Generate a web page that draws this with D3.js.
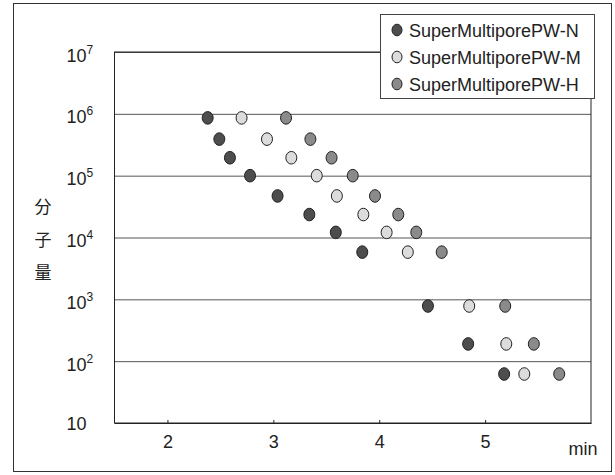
<!DOCTYPE html>
<html>
<head>
<meta charset="utf-8">
<script src="https://cdn.jsdelivr.net/npm/d3@7"></script>
<style>
  html, body { margin: 0; padding: 0; background: #fff; }
  svg { display: block; }
  text { font-family: "Liberation Sans", Arial, Helvetica, sans-serif; fill: #222; }
</style>
</head>
<body>
<svg id="chart" width="615" height="475"></svg>
<script>
// Calibration curves: log molecular weight vs. elution time (min)
const seriesNames = ["SuperMultiporePW-N", "SuperMultiporePW-M", "SuperMultiporePW-H"];
const seriesFills = ["#4d4d4d", "#dcdcdc", "#8a8a8a"];

// Molecular weight of each standard (shared by all three columns)
const molWeights = [860000, 390000, 195000, 100000, 47000, 23500, 12100, 5800, 780, 190, 62];

// Elution times (min) for each column
const timesN = [2.38, 2.49, 2.59, 2.78, 3.04, 3.34, 3.59, 3.84, 4.46, 4.84, 5.18];
const timesM = [2.70, 2.94, 3.17, 3.41, 3.60, 3.85, 4.07, 4.27, 4.85, 5.20, 5.37];
const timesH = [3.12, 3.35, 3.55, 3.75, 3.96, 4.18, 4.35, 4.59, 5.19, 5.46, 5.70];

const xTicks = [2, 3, 4, 5];
const yTicks = [10, 1e2, 1e3, 1e4, 1e5, 1e6, 1e7];
const yExponents = [null, 2, 3, 4, 5, 6, 7];
const xUnit = "min";
const yTitle = ["分", "子", "量"];

const svg = d3.select("#chart");

// outer frame
svg.append("rect")
  .attr("x", 13.5).attr("y", 3.5)
  .attr("width", 598).attr("height", 468)
  .attr("fill", "none").attr("stroke", "#333").attr("stroke-width", 1);

const margin = { left: 114.5, top: 52, right: 591, bottom: 423 };
const W = margin.right - margin.left;
const H = margin.bottom - margin.top;

const x = d3.scaleLinear().domain([1.5, 6.0]).range([0, W]);
const y = d3.scaleLog().domain([10, 1e7]).range([H, 0]);

const g = svg.append("g").attr("transform", `translate(${margin.left},${margin.top})`);

// horizontal grid at each decade
const yAxis = d3.axisLeft(y)
  .tickValues(yTicks)
  .tickSize(-W)
  .tickSizeOuter(0)
  .tickFormat(() => "10");
const yg = g.append("g").call(yAxis);
yg.select(".domain").remove();
yg.selectAll(".tick line").attr("stroke", "#555").attr("stroke-width", 1);
yg.selectAll(".tick text")
  .attr("x", -48)
  .attr("text-anchor", "start")
  .attr("dy", null)
  .attr("y", (d, i) => yExponents[i] === null ? 6 : 9)
  .style("font-size", "18px")
  .attr("fill", "#222")
  .each(function (d, i) {
    const e = yExponents[i];
    if (e !== null) {
      d3.select(this).append("tspan")
        .attr("dy", -8)
        .style("font-size", "12px")
        .text(e);
    }
  });

// x axis with short inward ticks
const xAxis = d3.axisBottom(x)
  .tickValues(xTicks)
  .tickSizeInner(-3)
  .tickSizeOuter(0)
  .tickFormat(d3.format("d"));
const xg = g.append("g").attr("transform", `translate(0,${H})`).call(xAxis);
xg.select(".domain").attr("stroke", "#222");
xg.selectAll(".tick line").attr("stroke", "#222");
xg.selectAll(".tick text")
  .attr("y", 25).attr("dy", null)
  .style("font-size", "18px").attr("fill", "#222");

// plot frame
g.append("rect")
  .attr("x", 0).attr("y", 0).attr("width", W).attr("height", H)
  .attr("fill", "none").attr("stroke", "#222").attr("stroke-width", 1);

// unit + axis title
svg.append("text")
  .attr("x", 583).attr("y", 455)
  .attr("text-anchor", "middle")
  .style("font-size", "18px")
  .text(xUnit);

svg.append("g").selectAll("text")
  .data(yTitle).join("text")
  .attr("x", 43)
  .attr("y", (d, i) => 213 + i * 33)
  .attr("text-anchor", "middle")
  .style("font-family", "'Noto Sans CJK JP', 'Noto Sans CJK SC', sans-serif")
  .style("font-size", "17px")
  .text(d => d);

// points
const allTimes = [timesN, timesM, timesH];
allTimes.forEach((times, s) => {
  g.append("g").selectAll("ellipse")
    .data(times.map((t, i) => ({ t, mw: molWeights[i] })))
    .join("ellipse")
    .attr("cx", d => x(d.t))
    .attr("cy", d => y(d.mw))
    .attr("rx", 5.5).attr("ry", 6.3)
    .attr("fill", seriesFills[s])
    .attr("stroke", "#222").attr("stroke-width", 1);
});

// legend
const lg = svg.append("g");
lg.append("rect")
  .attr("x", 380.5).attr("y", 14.5)
  .attr("width", 214).attr("height", 84)
  .attr("fill", "#fff").attr("stroke", "#444").attr("stroke-width", 1);
seriesNames.forEach((name, i) => {
  const cy = 30 + i * 27;
  lg.append("ellipse")
    .attr("cx", 397).attr("cy", cy)
    .attr("rx", 5).attr("ry", 5.8)
    .attr("fill", seriesFills[i]).attr("stroke", "#222").attr("stroke-width", 1);
  lg.append("text")
    .attr("x", 409).attr("y", cy + 6.5)
    .style("font-size", "18px")
    .text(name);
});
</script>
</body>
</html>
